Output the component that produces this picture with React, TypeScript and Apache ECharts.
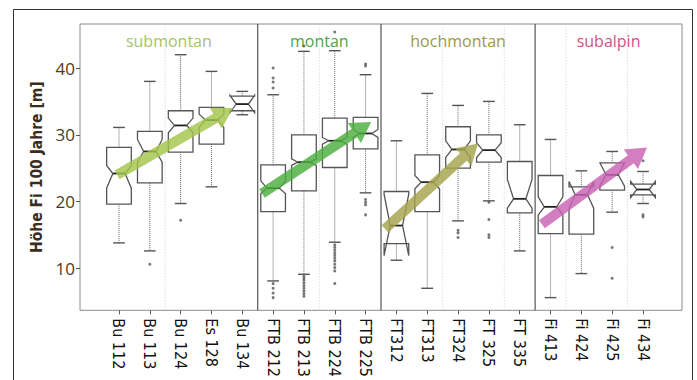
import React, { useEffect, useRef } from "react";
import * as echarts from "echarts";

const categories = [
  "Bu 112", "Bu 113", "Bu 124", "Es 128", "Bu 134",
  "FTB 212", "FTB 213", "FTB 224", "FTB 225",
  "FT312", "FT313", "FT324", "FT 325", "FT 335",
  "Fi 413", "Fi 424", "Fi 425", "Fi 434",
];
const whiskerLow = [13.8, 12.6, 19.7, 22.2, 33.0, 8.1, 9.1, 13.9, 21.3, 11.2, 7.0, 17.1, 20.1, 12.6, 5.6, 9.2, 18.4, 19.7];
const hingeLow = [19.6, 22.8, 27.4, 28.6, 33.6, 18.5, 21.6, 25.1, 27.9, 13.7, 18.5, 25.0, 25.9, 18.3, 15.2, 15.1, 21.7, 21.0];
const medians = [24.2, 27.5, 31.4, 32.2, 34.6, 22.0, 25.9, 29.1, 30.2, 16.4, 22.9, 27.8, 27.7, 20.4, 19.2, 21.0, 24.0, 21.8];
const hingeHigh = [28.1, 30.5, 33.6, 34.1, 35.8, 25.5, 30.0, 32.5, 32.6, 21.5, 27.0, 31.2, 30.0, 26.0, 23.9, 22.2, 25.8, 22.6];
const whiskerHigh = [31.1, 38.0, 42.0, 39.5, 36.5, 36.0, 42.5, 42.6, 39.0, 29.1, 36.2, 34.4, 35.0, 31.5, 29.3, 24.6, 27.5, 24.5];
const notchLow = [22.0, 25.9, 30.3, 31.1, 33.3, 21.2, 25.4, 28.6, 29.6, 11.9, 21.9, 26.6, 26.6, 19.0, 18.0, 19.0, 22.3, 20.6];
const notchHigh = [25.4, 29.3, 32.5, 33.1, 35.9, 23.1, 26.4, 29.6, 30.8, 21.1, 23.9, 29.1, 28.8, 23.3, 20.7, 23.0, 25.8, 23.0];

const outliers: [number, number][] = [
  [1, 10.6],
  [2, 17.2],
  [5, 40.0], [5, 38.5], [5, 37.9], [5, 37.0], [5, 7.7], [5, 7.0], [5, 6.3], [5, 5.6],
  [6, 43.3], [6, 8.8], [6, 8.5], [6, 8.2], [6, 7.8], [6, 7.4], [6, 7.0], [6, 6.6], [6, 6.2], [6, 5.8],
  [7, 45.4], [7, 13.5], [7, 13.1], [7, 12.7], [7, 12.3], [7, 11.9], [7, 11.5], [7, 11.1], [7, 10.6], [7, 10.1], [7, 9.6], [7, 7.7],
  [8, 40.6], [8, 40.3], [8, 20.3], [8, 19.9], [8, 19.5], [8, 18.0],
  [11, 15.7], [11, 15.3], [11, 14.6],
  [12, 19.9], [12, 17.3], [12, 15.0], [12, 14.6],
  [16, 13.1], [16, 8.5],
  [17, 26.1], [17, 18.0], [17, 17.7],
];

const yTicks = [10, 20, 30, 40];
const zones = ["submontan", "montan", "hochmontan", "subalpin"];
const zoneColors = ["#a6c45c", "#4ba64a", "#9c9a3e", "#d2508a"];
const arrowColors = ["#a2c64a", "#4caf3e", "#a5a44c", "#c862b2"];
const arrowStart: [number, number][] = [[-0.06, 24.0], [4.64, 21.2], [8.63, 15.9], [13.72, 16.6]];
const arrowEnd: [number, number][] = [[3.7, 34.0], [8.18, 31.9], [11.65, 28.7], [17.13, 28.1]];
const panelBreaks = [4.5, 8.5, 13.5];
const separators = [1.5, 6.5, 10.5, 12.5, 14.5, 16.5];

const X_MIN = -1.265;
const X_MAX = 18.265;
const Y_MIN = 3.7;
const Y_MAX = 46.6;
const zoneEdges = [X_MIN, ...panelBreaks, X_MAX];

const labelFont = "'DejaVu Sans Condensed', 'Liberation Sans Narrow', sans-serif";

export default function App() {
  const ref = useRef<HTMLDivElement>(null);
  useEffect(() => {
    if (!ref.current) return;
    const chart = echarts.init(ref.current, null, { renderer: "svg" });
    const idx = categories.map((_, i) => i);

    const boxData = categories.map((_, i) => [
      i, whiskerLow[i], hingeLow[i], medians[i], hingeHigh[i], whiskerHigh[i], notchLow[i], notchHigh[i],
    ]);

    const renderBox = (params: any, api: any) => {
      const x = api.value(0);
      const half = 0.4;
      const capHalf = 0.19;
      const px = (v: number) => api.coord([v, Y_MIN])[0];
      const py = (k: number) => api.coord([x, api.value(k)])[1];
      const xl = px(x - half), xr = px(x + half), xc = px(x);
      const cl = px(x - capHalf), cr = px(x + capHalf);
      const wl = py(1), hl = py(2), md = py(3), hh = py(4), wh = py(5), nl = py(6), nh = py(7);
      const ind = (xr - xl) * 0.25;
      const stroke = "#555";
      return {
        type: "group",
        children: [
          { type: "line", shape: { x1: xc, y1: hh, x2: xc, y2: wh }, style: { stroke: "#666", lineWidth: 1, lineDash: [1, 1] } },
          { type: "line", shape: { x1: xc, y1: hl, x2: xc, y2: wl }, style: { stroke: "#666", lineWidth: 1, lineDash: [1, 1] } },
          { type: "line", shape: { x1: cl, y1: wh, x2: cr, y2: wh }, style: { stroke: stroke, lineWidth: 1.4 } },
          { type: "line", shape: { x1: cl, y1: wl, x2: cr, y2: wl }, style: { stroke: stroke, lineWidth: 1.4 } },
          {
            type: "polygon",
            shape: {
              points: [
                [xl, hh], [xl, nh], [xl + ind, md], [xl, nl], [xl, hl],
                [xr, hl], [xr, nl], [xr - ind, md], [xr, nh], [xr, hh],
              ],
            },
            style: { fill: "#fff", stroke: stroke, lineWidth: 1.3 },
          },
          { type: "line", shape: { x1: xl + ind, y1: md, x2: xr - ind, y2: md }, style: { stroke: "#222", lineWidth: 1.8 } },
        ],
      };
    };

    const renderArrow = (params: any, api: any) => {
      const a = api.coord([api.value(0), api.value(1)]);
      const b = api.coord([api.value(2), api.value(3)]);
      const color = arrowColors[api.value(4)];
      const dx = b[0] - a[0], dy = b[1] - a[1];
      const len = Math.sqrt(dx * dx + dy * dy);
      const ux = dx / len, uy = dy / len;
      const nx = -uy, ny = ux;
      const sw = 5, hw = 12, hl = 20;
      const bx = b[0] - ux * hl, by = b[1] - uy * hl;
      return {
        type: "polygon",
        shape: {
          points: [
            [a[0] + nx * sw, a[1] + ny * sw],
            [bx + nx * sw, by + ny * sw],
            [bx + nx * hw, by + ny * hw],
            [b[0], b[1]],
            [bx - nx * hw, by - ny * hw],
            [bx - nx * sw, by - ny * sw],
            [a[0] - nx * sw, a[1] - ny * sw],
          ],
        },
        style: { fill: color, opacity: 0.82 },
      };
    };

    const renderVLine = (dashed: boolean) => (params: any, api: any) => {
      const x = api.value(0);
      const p1 = api.coord([x, Y_MIN]);
      const p2 = api.coord([x, Y_MAX]);
      return {
        type: "line",
        shape: { x1: p1[0], y1: p1[1], x2: p2[0], y2: p2[1] },
        style: dashed
          ? { stroke: "#cfcfcf", lineWidth: 1, lineDash: [1, 2] }
          : { stroke: "#555", lineWidth: 1.2 },
      };
    };

    const renderZoneLabel = (params: any, api: any) => {
      const i = api.value(0);
      const cx = (zoneEdges[i] + zoneEdges[i + 1]) / 2;
      const p = api.coord([cx, 44.1]);
      return {
        type: "text",
        x: p[0],
        y: p[1],
        style: {
          text: zones[i],
          fill: zoneColors[i],
          font: "16px 'Open Sans', sans-serif",
          align: "center",
          verticalAlign: "middle",
        },
      };
    };

    chart.setOption({
      animation: false,
      backgroundColor: "#fff",
      grid: {
        left: 80, right: 15, top: 24, bottom: 64,
        show: true, borderColor: "#8a8a8a", borderWidth: 1, backgroundColor: "#fff",
      },
      xAxis: {
        type: "value",
        min: X_MIN,
        max: X_MAX,
        axisLine: { show: false, onZero: false },
        splitLine: { show: false },
        axisTick: { show: true, customValues: idx, length: 4, lineStyle: { color: "#555" } },
        axisLabel: {
          customValues: idx,
          formatter: (v: number) => categories[Math.round(v)] ?? "",
          rotate: -90,
          margin: 8,
          fontSize: 16,
          color: "#111",
          fontFamily: labelFont,
        },
      },
      yAxis: {
        type: "value",
        min: Y_MIN,
        max: Y_MAX,
        name: "Höhe Fi 100 Jahre [m]",
        nameLocation: "middle",
        nameGap: 35,
        nameTextStyle: { fontSize: 15.5, fontWeight: "bold", color: "#3c2c1a", fontFamily: labelFont },
        axisLine: { show: false, onZero: false },
        splitLine: { show: false },
        axisTick: { show: true, customValues: yTicks, length: 4, lineStyle: { color: "#555" } },
        axisLabel: { customValues: yTicks, fontSize: 17, color: "#4a3b29", margin: 5, fontFamily: "'Open Sans', sans-serif" },
      },
      graphic: [
        {
          type: "rect",
          silent: true,
          shape: { x: 13.5, y: 9.5, width: 679, height: 400 },
          style: { fill: "none", stroke: "#333", lineWidth: 1 },
        },
      ],
      series: [
        {
          type: "custom",
          renderItem: renderVLine(true),
          data: separators.map((s) => [s]),
          encode: { x: 0 },
          silent: true,
          z: 1,
        },
        {
          type: "custom",
          renderItem: renderVLine(false),
          data: panelBreaks.map((s) => [s]),
          encode: { x: 0 },
          silent: true,
          z: 1,
        },
        {
          type: "custom",
          renderItem: renderZoneLabel,
          data: zones.map((_, i) => [i]),
          encode: { x: 0 },
          silent: true,
          z: 2,
        },
        {
          type: "custom",
          renderItem: renderBox,
          data: boxData,
          encode: { x: 0, y: [1, 2, 3, 4, 5] },
          silent: true,
          z: 3,
        },
        {
          type: "scatter",
          data: outliers,
          symbolSize: 3,
          itemStyle: { color: "#555" },
          silent: true,
          z: 4,
        },
        {
          type: "custom",
          renderItem: renderArrow,
          data: arrowStart.map((s, i) => [s[0], s[1], arrowEnd[i][0], arrowEnd[i][1], i]),
          encode: { x: [0, 2], y: [1, 3] },
          silent: true,
          z: 5,
        },
      ],
    });
    return () => chart.dispose();
  }, []);
  return <div ref={ref} style={{ position: "absolute", left: 0, top: 0, width: 697, height: 380 }} />;
}
